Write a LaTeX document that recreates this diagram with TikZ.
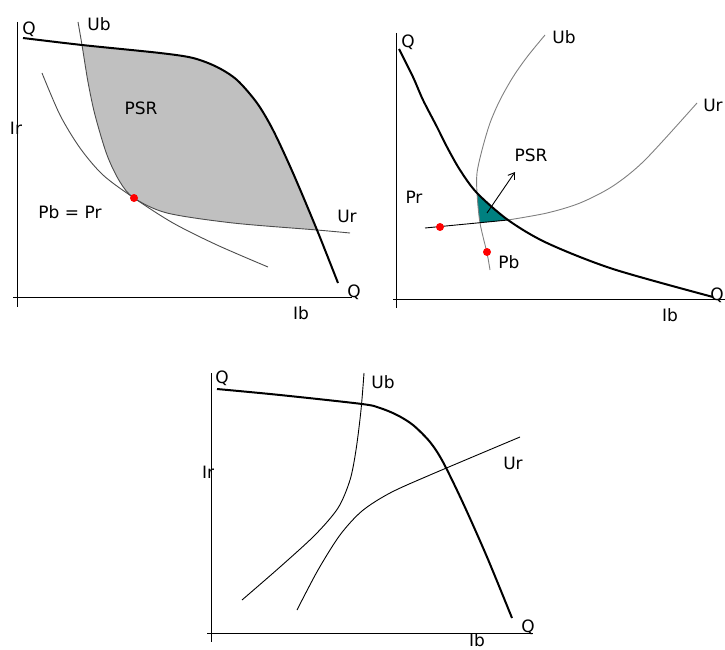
\documentclass[tikz,border=0pt]{standalone}
\usepackage{fontspec}
\newfontfamily\lblfont{DejaVu Sans}
\usepackage{tikz}
\usetikzlibrary{arrows.meta}
\definecolor{psrgray}{RGB}{192,192,192}
\definecolor{psrteal}{RGB}{0,128,128}
% curves (pixel coordinates, y downwards)
\newcommand{\qone}{plot[smooth] coordinates {(23,38) (82,45) (160,53) (193,58) (217,67) (237,80) (257,103) (273,130) (293,173) (317,230) (338,283)}}
\newcommand{\ubone}{plot[smooth] coordinates {(78,22) (82,45) (88,82) (95,115) (107,155) (120,182) (134,198) (167,213) (233,223) (317,230) (350,233)}}
\newcommand{\urone}{plot[smooth] coordinates {(42,73) (60,115) (80,148) (103,175) (134,198) (173,223) (217,245) (268,267)}}
\newcommand{\qtwo}{plot[smooth] coordinates {(399,49) (413,77) (423,100) (437,127) (447,147) (460,170) (477,193) (508,220) (547,243) (613,269) (713,297)}}
\newcommand{\ubtwo}{plot[smooth] coordinates {(545,35) (527,57) (513,77) (500,100) (490,123) (482,150) (477,173) (477,193) (480,223) (487,253) (490,270)}}
\newcommand{\urtwo}{plot[smooth] coordinates {(508,220) (547,213) (580,203) (613,186) (645,160) (697,103)}}
\newcommand{\qthree}{plot[smooth] coordinates {(217,389) (280,395) (362,404) (380,408) (397,415) (413,425) (430,442) (443,462) (463,503) (487,557) (512,618)}}
\newcommand{\ubthree}{plot[smooth] coordinates {(364,373) (361,410) (356,450) (350,480) (338,508) (315,535) (280,567) (242,600)}}
\newcommand{\urthree}{plot[smooth] coordinates {(297,610) (318,570) (340,535) (362,511) (390,493) (430,475) (520,437)}}
\begin{document}
\begin{tikzpicture}[x=1pt, y=-1pt,
  lbl/.style={font=\lblfont\fontsize{17}{20}\selectfont, inner sep=0pt},
  axis/.style={line width=1pt},
  qline/.style={line width=2pt},
  thin/.style={line width=0.9pt},
  dot/.style={fill=red}]
\useasboundingbox (0,0) rectangle (725,650);
% Top row
% First panel: grey PSR between Ub, Ur and Q
\begin{scope}
\clip \qone -- (338,300) -- (0,300) -- (0,38) -- cycle;
\fill[psrgray] \ubone -- (360,233) -- (360,0) -- (78,0) -- cycle;
\end{scope}
\draw[axis] (17,22) -- (17,307); % Ir axis
\draw[axis] (13,297) -- (352,297); % Ib axis
\draw[thin, black!70] \ubone;
\draw[thin, black!70] \urone;
\draw[qline] \qone;
\fill[dot] (134,198) circle (4);
\node[lbl] (q1a) at (29,29) {Q};
\node[lbl] (ub1) at (99,24) {Ub};
\node[lbl] (ir1) at (16,128) {Ir};
\node[lbl] (psr1) at (141,108) {PSR};
\node[lbl] (pbpr1) at (70,212) {Pb = Pr};
\node[lbl] (ur1) at (347,216) {Ur};
\node[lbl] (q1b) at (354,292) {Q};
\node[lbl] (ib1) at (301,313) {Ib};
%
% Second panel: small teal PSR
\begin{scope}
\clip \ubtwo -- (700,270) -- (700,35) -- cycle;
\clip (425,228) -- plot[smooth] coordinates {(508,220) (547,213) (580,203) (613,186) (645,160) (697,103)} -- (697,0) -- (425,0) -- cycle;
\fill[psrteal] \qtwo -- (399,297) -- cycle;
\end{scope}
\draw[axis] (396,33) -- (396,308); % Ir axis
\draw[axis] (393,299) -- (725,299); % Ib axis
\draw[thin, gray] \ubtwo;
\draw[thin, gray] \urtwo;
\draw[thin] (425,228) -- (508,220);
\draw[qline] \qtwo;
\fill[dot] (440,227) circle (4);
\fill[dot] (487,252) circle (4);
\node[lbl] (q2a) at (408,42) {Q};
\node[lbl] (ub2) at (564,37) {Ub};
\node[lbl] (ur2) at (713,105) {Ur};
\node[lbl] (psr2) at (531,155) {PSR};
\node[lbl] (pr2) at (414,197) {Pr};
\node[lbl] (pb2) at (509,262) {Pb};
\node[lbl] (q2b) at (717,295) {Q};
\node[lbl] (ib2) at (670,315) {Ib};
\coordinate (psrtail) at (487,213);
\coordinate (psrhead) at (515,172);
\draw[thin, -{Straight Barb[length=6pt,width=8pt]}] (psrtail) -- (psrhead);
%
% Bottom row
% Third panel: no PSR
\draw[axis] (211,373) -- (211,642); % Ir axis
\draw[axis] (207,633) -- (533,633); % Ib axis
\draw[thin] \ubthree;
\draw[thin] \urthree;
\draw[qline] \qthree;
\node[lbl] (q3a) at (222,378) {Q};
\node[lbl] (ub3) at (383,382) {Ub};
\node[lbl] (ir3) at (208,472) {Ir};
\node[lbl] (ur3) at (513,463) {Ur};
\node[lbl] (q3b) at (528,627) {Q};
\node[lbl] (ib3) at (477,640) {Ib};
%
\end{tikzpicture}
\end{document}
